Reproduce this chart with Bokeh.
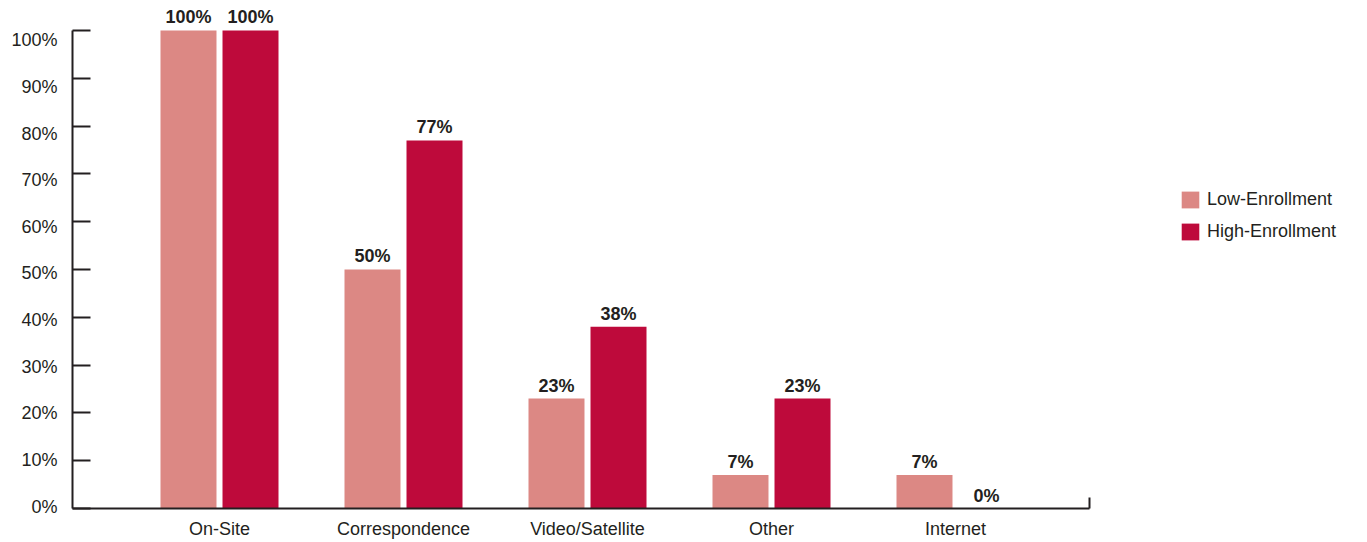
from bokeh.plotting import figure
from bokeh.models import (ColumnDataSource, FixedTicker, LinearAxis, Range1d,
                          LabelSet, Legend, LegendItem)
from bokeh.core.properties import value
from bokeh.embed import file_html
from bokeh.resources import INLINE

# ---- data ----
categories = ["On-Site", "Correspondence", "Video/Satellite", "Other", "Internet"]
low_enrollment = [100, 50, 23, 7, 7]
high_enrollment = [100, 77, 38, 23, 0]
series_names = ["Low-Enrollment", "High-Enrollment"]
y_ticks = [0, 10, 20, 30, 40, 50, 60, 70, 80, 90, 100]
y_tick_labels = [f"{t}%" for t in y_ticks]

# ---- style ----
LOW = "#DC8884"
HIGH = "#BE0A3B"
TXT = "#231F20"
FONT = "Liberation Sans"

X_START, X_END = -0.79891, 6.2391
AXIS_END = 4.728
BAR_W = 0.3043
OFF = 0.1685

p = figure(width=1367, height=542,
           x_range=Range1d(X_START, X_END), y_range=Range1d(0, 106.276),
           output_backend="svg", toolbar_location=None,
           x_axis_type=None, y_axis_type=None,
           min_border_left=72, min_border_right=0,
           min_border_top=0, min_border_bottom=34,
           outline_line_color=None, background_fill_color="white")

xs = list(range(len(categories)))
low_x = [x - OFF for x in xs]
high_x = [x + OFF for x in xs]

src_low = ColumnDataSource(dict(x=low_x, top=low_enrollment,
                                label=[f"{v}%" for v in low_enrollment]))
src_high = ColumnDataSource(dict(x=high_x, top=high_enrollment,
                                 label=[f"{v}%" for v in high_enrollment]))

r_low = p.vbar(x="x", top="top", bottom=0, width=BAR_W, source=src_low,
               fill_color=LOW, line_color=None)
r_high = p.vbar(x="x", top="top", bottom=0, width=BAR_W, source=src_high,
                fill_color=HIGH, line_color=None)

for src in (src_low, src_high):
    p.add_layout(LabelSet(x="x", y="top", text="label", source=src,
                          text_align="center", text_baseline="alphabetic",
                          y_offset=7, text_font=value(FONT),
                          text_font_style="bold",
                          text_font_size=value("18px"), text_color=TXT))

# ---- x axis ----
xaxis = LinearAxis(ticker=FixedTicker(ticks=xs, minor_ticks=[AXIS_END]),
                   bounds=(X_START, AXIS_END + 0.002),
                   major_label_overrides={i: c for i, c in zip(xs, categories)},
                   major_tick_in=0, major_tick_out=0,
                   minor_tick_in=11, minor_tick_out=0,
                   minor_tick_line_width=2, minor_tick_line_color=TXT,
                   axis_line_width=2, axis_line_color=TXT,
                   major_label_standoff=10,
                   major_label_text_font=FONT, major_label_text_font_size="18px",
                   major_label_text_color=TXT)
p.add_layout(xaxis, "below")

# ---- y axis (line + ticks only) ----
yaxis = LinearAxis(ticker=FixedTicker(ticks=y_ticks), bounds=(0, 100),
                   major_tick_in=18, major_tick_out=0,
                   minor_tick_in=0, minor_tick_out=0,
                   major_tick_line_width=2, major_tick_line_color=TXT,
                   axis_line_width=2, axis_line_color=TXT,
                   major_label_text_font_size="0px",
                   major_label_text_alpha=0, major_label_text_color=None,
                   major_label_standoff=0)
p.add_layout(yaxis, "left")

# ---- y tick labels (placed as in the reference, slightly offset from ticks) ----
p.extra_y_ranges = {"labels": Range1d(-0.429, 108.58)}
ylab = LinearAxis(y_range_name="labels", ticker=FixedTicker(ticks=y_ticks),
                  major_label_overrides={t: l for t, l in zip(y_ticks, y_tick_labels)},
                  axis_line_color=None, major_tick_line_color=None,
                  minor_tick_line_color=None,
                  major_tick_in=0, major_tick_out=0,
                  minor_tick_in=0, minor_tick_out=0,
                  major_label_standoff=15,
                  major_label_text_font=FONT, major_label_text_font_size="18px",
                  major_label_text_color=TXT)
p.add_layout(ylab, "left")

# ---- legend ----
legend = Legend(items=[LegendItem(label=series_names[0], renderers=[r_low]),
                       LegendItem(label=series_names[1], renderers=[r_high])],
                location=(1107, 266), padding=0, margin=0, spacing=11,
                glyph_width=22, glyph_height=21, label_standoff=6,
                label_text_font=FONT, label_text_font_size="18px",
                label_text_color=TXT, border_line_color=None,
                background_fill_alpha=0)
p.add_layout(legend)

open("out.html", "w").write(file_html(p, INLINE))
